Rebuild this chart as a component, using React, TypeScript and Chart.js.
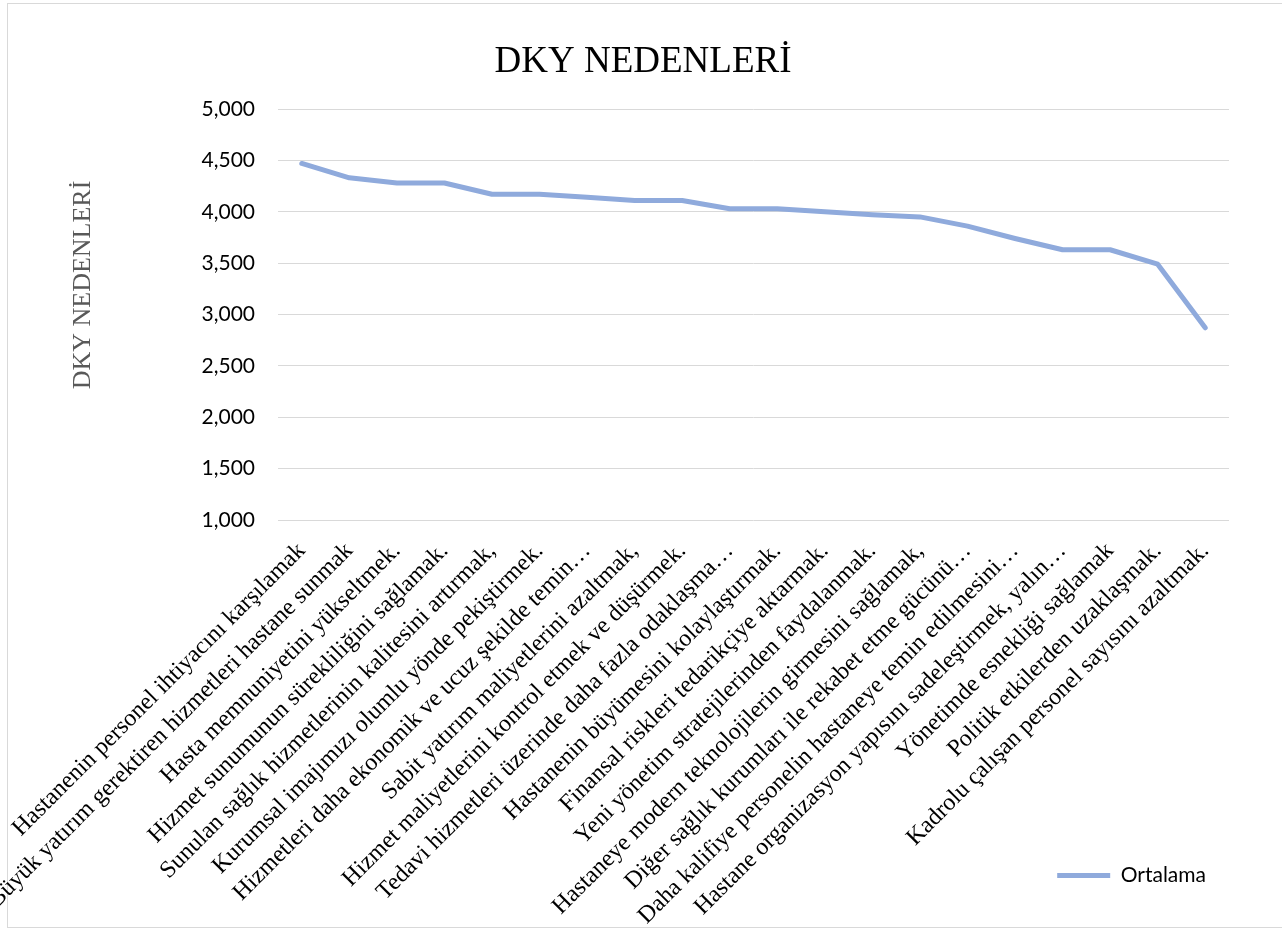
import React, { useEffect, useRef } from 'react';
import { Chart, registerables } from 'chart.js';

Chart.register(...registerables);

const categories: string[] = [
  'Hastanenin personel ihtiyacını karşılamak',
  'Büyük yatırım gerektiren hizmetleri hastane sunmak',
  'Hasta memnuniyetini yükseltmek.',
  'Hizmet sunumunun sürekliliğini sağlamak.',
  'Sunulan sağlık hizmetlerinin kalitesini artırmak,',
  'Kurumsal imajımızı olumlu yönde pekiştirmek.',
  'Hizmetleri daha ekonomik ve ucuz şekilde temin…',
  'Sabit yatırım maliyetlerini azaltmak,',
  'Hizmet maliyetlerini kontrol etmek ve düşürmek.',
  'Tedavi hizmetleri üzerinde daha fazla odaklaşma…',
  'Hastanenin büyümesini kolaylaştırmak.',
  'Finansal riskleri tedarikçiye aktarmak.',
  'Yeni yönetim stratejilerinden faydalanmak.',
  'Hastaneye modern teknolojilerin girmesini sağlamak,',
  'Diğer sağlık kurumları ile rekabet etme gücünü…',
  'Daha kalifiye personelin hastaneye temin edilmesini…',
  'Hastane organizasyon yapısını sadeleştirmek, yalın…',
  'Yönetimde esnekliği sağlamak',
  'Politik etkilerden uzaklaşmak.',
  'Kadrolu çalışan personel sayısını azaltmak.',
];

const ortalama: number[] = [
  4.47, 4.33, 4.28, 4.28, 4.17, 4.17, 4.14, 4.11, 4.11, 4.03,
  4.03, 4.0, 3.97, 3.95, 3.86, 3.74, 3.63, 3.63, 3.49, 2.87,
];

const seriesName = 'Ortalama';
const chartTitle = 'DKY NEDENLERİ';
const yAxisTitle = 'DKY NEDENLERİ';
const yMin = 1;
const yMax = 5;
const yStep = 0.5;

export default function App() {
  const canvasRef = useRef<HTMLCanvasElement>(null);

  useEffect(() => {
    if (!canvasRef.current) return;

    const yTitlePlugin = {
      id: 'yTitlePlugin',
      afterLayout(chart: any) {
        // let the rotated category labels use the full canvas height (legend sits to their right)
        if (chart.scales && chart.scales.x) {
          chart.scales.x.bottom = chart.height;
        }
      },
      afterDraw(chart: any) {
        const ctx = chart.ctx;
        ctx.save();
        ctx.font = '26px "Liberation Serif"';
        ctx.fillStyle = '#595959';
        ctx.translate(83, 285);
        ctx.rotate(-Math.PI / 2);
        ctx.textAlign = 'center';
        ctx.textBaseline = 'middle';
        ctx.fillText(yAxisTitle, 0, 0);
        ctx.restore();
      },
    };

    const chart = new Chart(canvasRef.current, {
      type: 'line',
      data: {
        labels: categories,
        datasets: [
          {
            label: seriesName,
            data: ortalama,
            borderColor: '#8FAADC',
            backgroundColor: '#8FAADC',
            borderWidth: 5,
            borderCapStyle: 'round',
            borderJoinStyle: 'round',
            pointRadius: 0,
            pointHoverRadius: 0,
            tension: 0,
            fill: false,
          },
        ],
      },
      options: {
        responsive: false,
        animation: false,
        devicePixelRatio: 1,
        layout: { padding: { left: 57, right: 53, top: 0, bottom: 33 } },
        plugins: {
          title: {
            display: true,
            text: chartTitle,
            color: '#000000',
            font: { family: 'Liberation Serif', size: 37, weight: 'normal' },
            padding: { top: 40, bottom: 24.6 },
          },
          legend: {
            position: 'bottom',
            align: 'end',
            labels: {
              usePointStyle: true,
              pointStyle: 'line',
              pointStyleWidth: 53,
              boxHeight: 21,
              padding: 23,
              color: '#000000',
              font: { family: 'Lato', size: 21 },
            },
          },
          tooltip: { enabled: false },
        },
        scales: {
          x: {
            offset: true,
            grid: { display: false, drawTicks: false },
            border: { display: false },
            ticks: {
              autoSkip: false,
              minRotation: 45,
              maxRotation: 45,
              padding: 17,
              labelOffset: 0,
              color: '#000000',
              font: { family: 'Liberation Serif', size: 24 },
            },
            afterFit: (s: any) => {
              s.height = 322;
              s.paddingLeft = 0;
              s.paddingRight = 0;
            },
          },
          y: {
            min: yMin,
            max: yMax,
            grid: { color: '#d9d9d9', lineWidth: 1, drawTicks: false },
            border: { display: false },
            ticks: {
              stepSize: yStep,
              padding: 23,
              color: '#000000',
              font: { family: 'Lato', size: 21 },
              callback: (v: any) => Number(v).toFixed(3).replace('.', ','),
            },
            afterFit: (s: any) => {
              s.width = 221;
            },
          },
        },
      },
      plugins: [yTitlePlugin],
    });

    return () => chart.destroy();
  }, []);

  return (
    <div style={{ position: 'absolute', left: 0, top: 0, width: 1282, height: 929, background: '#fff' }}>
      <div
        style={{
          position: 'absolute',
          left: 7,
          top: 3,
          width: 1300,
          height: 923,
          border: '1px solid #d9d9d9',
          pointerEvents: 'none',
        }}
      />
      <canvas
        ref={canvasRef}
        width={1282}
        height={929}
        style={{ position: 'absolute', left: 0, top: 0, width: 1282, height: 929, display: 'block' }}
      />
    </div>
  );
}
